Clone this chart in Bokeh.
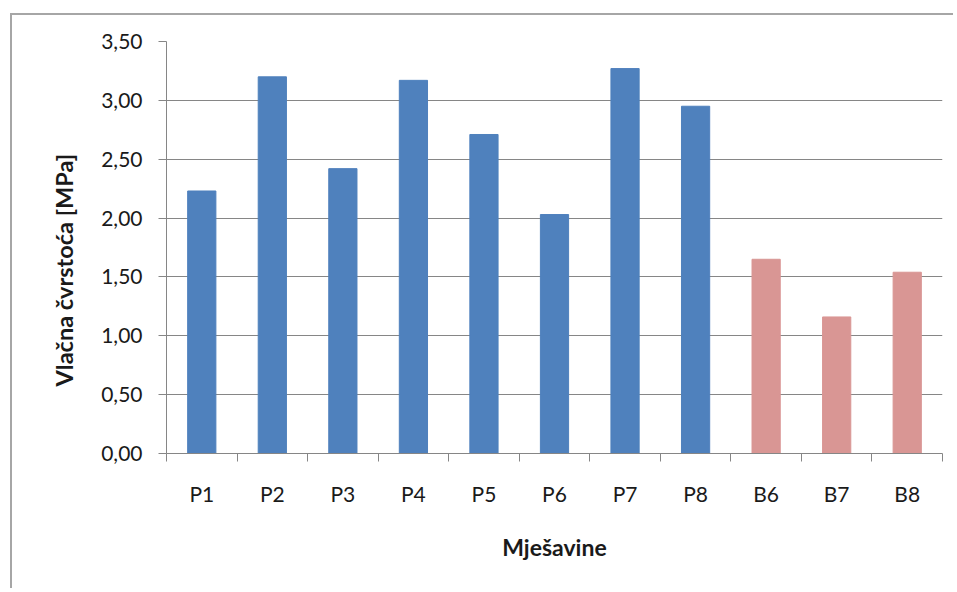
from bokeh.plotting import figure
from bokeh.models import ColumnDataSource, Range1d, FixedTicker, Title
from bokeh.embed import file_html
from bokeh.resources import INLINE

# ---- data ----
categories = ["P1", "P2", "P3", "P4", "P5", "P6", "P7", "P8", "B6", "B7", "B8"]
strength = [2.23, 3.20, 2.42, 3.17, 2.71, 2.03, 3.27, 2.95, 1.65, 1.16, 1.54]
groups = ["P", "P", "P", "P", "P", "P", "P", "P", "B", "B", "B"]
y_ticks = [0.0, 0.5, 1.0, 1.5, 2.0, 2.5, 3.0, 3.5]
y_tick_labels = ["0,00", "0,50", "1,00", "1,50", "2,00", "2,50", "3,00", "3,50"]
x_title = "Mješavine"
y_title = "Vlačna čvrstoća  [MPa]"

BLUE = "#4F81BD"
PINK = "#D99694"
GRID = "#868686"
FONT = "Lato"
TXT = "#1a1a1a"

colors = [BLUE if g == "P" else PINK for g in groups]
xpos = [i + 0.5 for i in range(len(categories))]
src = ColumnDataSource(dict(x=xpos, top=strength, color=colors, cat=categories))

W, H = 943, 575
p = figure(width=W, height=H, output_backend="svg", toolbar_location=None,
           x_range=Range1d(0, len(categories)), y_range=Range1d(0, 3.5),
           min_border_left=154, min_border_right=13, min_border_top=26,
           min_border_bottom=137)
p.margin = (13, 0, 0, 10)
p.styles = {"border-left": "2px solid #a6a6a6", "border-top": "2px solid #a6a6a6"}
p.outline_line_color = None
p.background_fill_color = "white"
p.border_fill_color = "white"

p.vbar(x="x", top="top", bottom=0, width=0.4, color="color", source=src)

# y axis
ya = p.yaxis[0]
ya.ticker = FixedTicker(ticks=y_ticks, minor_ticks=[])
ya.major_label_overrides = {t: l for t, l in zip(y_ticks, y_tick_labels)}
ya.axis_line_color = GRID
ya.major_tick_line_color = GRID
ya.major_tick_out = 8
ya.major_tick_in = 0
ya.major_label_standoff = 16
ya.major_label_text_font = FONT
ya.major_label_text_font_size = "21px"
ya.major_label_text_color = TXT

# x axis
xa = p.xaxis[0]
xa.ticker = FixedTicker(ticks=xpos, minor_ticks=list(range(len(categories) + 1)))
xa.major_label_overrides = {x: c for x, c in zip(xpos, categories)}
xa.axis_line_color = GRID
xa.major_tick_line_color = None
xa.major_tick_out = 0
xa.major_tick_in = 0
xa.minor_tick_line_color = GRID
xa.minor_tick_out = 8
xa.minor_tick_in = 0
xa.major_label_standoff = 19
xa.major_label_text_font = FONT
xa.major_label_text_font_size = "21px"
xa.major_label_text_color = TXT
xa.axis_label = x_title
xa.axis_label_text_font = FONT
xa.axis_label_text_font_size = "23px"
xa.axis_label_text_font_style = "bold"
xa.axis_label_text_color = TXT
xa.axis_label_standoff = 24

p.xgrid.grid_line_color = None
p.ygrid.ticker = FixedTicker(ticks=y_ticks)
p.ygrid.grid_line_color = GRID
p.ygrid.grid_line_width = 1

# y title in the left panel, placed a little below the frame centre like the original
p.add_layout(Title(text=y_title, align="left", offset=67, standoff=41,
                   text_font=FONT, text_font_size="23.5px", text_font_style="bold",
                   text_color=TXT), "left")

open("out.html", "w").write(file_html(p, INLINE))
